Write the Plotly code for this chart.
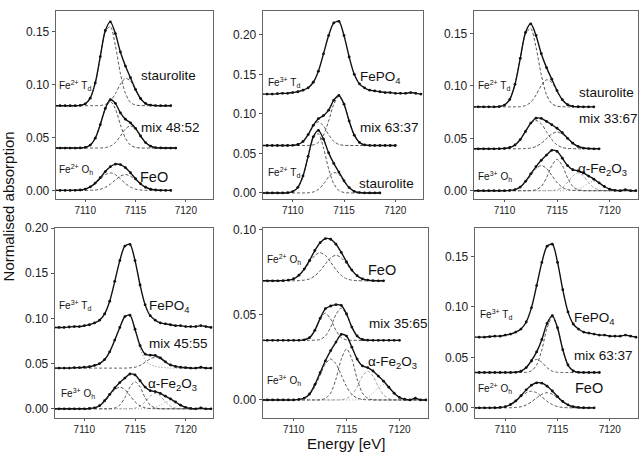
import plotly.graph_objects as go

# ---------------- data ----------------
ENERGY = [7107.0, 7107.5, 7108.0, 7108.5, 7109.0, 7109.5, 7110.0, 7110.5,
          7111.0, 7111.5, 7112.0, 7112.5, 7113.0, 7113.5, 7114.0, 7114.5,
          7115.0, 7115.5, 7116.0, 7116.5, 7117.0, 7117.5, 7118.0, 7118.5,
          7119.0, 7119.5, 7120.0, 7120.5, 7121.0, 7121.5, 7122.0, 7122.5]

# reference spectra (absorption above their own baseline)
STAU_FIT = [0, 0, 0, 0, 0, .0003, .0017, .0071, .0215, .0463, .0710, .0792, .0681, .0507,
            .0374, .0264, .0154, .0068, .0021, .0005, .0001, 0, 0, 0]
STAU_C1 = [0, 0, 0, 0, 0, .0003, .0017, .0071, .0215, .0461, .0698, .0748, .0568, .0304,
           .0116, .0031, .0006, .0001]
STAU_C2 = [0, 0, 0, 0, 0, 0, 0, 0, 0, .0002, .0012, .0044, .0113, .0203, .0258, .0233,
           .0148, .0067, .0021, .0005, .0001]

FEO_FIT = [0, 0, 0, 0, .0001, .0004, .0012, .0033, .0069, .0120, .0178, .0224, .0248, .0244,
           .0215, .0167, .0111, .0063, .0030, .0011, .0004, .0001, 0, 0]
FEO_L = [0, 0, 0, 0, .0001, .0004, .0012, .0032, .0065, .0109, .0149, .0165, .0149, .0109,
         .0065, .0032, .0012, .0004, .0001]
FEO_R = [0, 0, 0, 0, 0, 0, 0, .0001, .0004, .0011, .0029, .0059, .0099, .0135, .0150, .0135,
         .0099, .0059, .0029, .0011, .0004, .0001]

FEPO4_FIT = [0, 0, 0, .0005, .001, .001, .002, .003, .005, .008, .015, .029, .051, .074,
             .090, .092, .074, .047, .025, .013, .008, .005, .004, .003, .002, .002, .001,
             .001, .001, .002, .001, 0]

FE2O3_FIT = [0, 0, 0, 0, 0, 0, 0, .0003, .0011, .0035, .009, .016, .023, .029, .034, .0385,
             .0375, .031, .024, .020, .019, .017, .014, .011, .0075, .004, .0015, .0004, 0,
             .001, 0, 0]
FE2O3_A = [0, 0, 0, 0, 0, 0, .0001, .0003, .0011, .0032, .0078, .0146, .0212, .024, .0212,
           .0146, .0078, .0032, .0011, .0003, .0001]
FE2O3_B = [0, 0, 0, 0, 0, 0, 0, 0, 0, 0, 0, .0001, .0009, .0041, .0123, .024, .030, .024,
           .0123, .0041, .0009, .0001]
FE2O3_C = [0, 0, 0, 0, 0, 0, 0, 0, 0, 0, 0, 0, 0, 0, 0, .0001, .0008, .0029, .0078, .014,
           .017, .014, .0078, .0029, .0008, .0001]
FE2O3_D = [0, 0, 0, 0, 0, 0, 0, 0, 0, 0, 0, 0, 0, 0, 0, 0, 0, 0, .0001, .0004, .0016, .0041,
           .0074, .009, .0074, .0041, .0016, .0004, .0001]

# mixtures
MIX48_FIT = [0, 0, 0, 0, 0, .0001, .0006, .0028, .0093, .0221, .0374, .0458, .0422, .0333,
             .0273, .0238, .0186, .0114, .0052, .0018, .0004, .0001, 0, 0, 0]
MIX48_C1 = [0, 0, 0, 0, 0, .0001, .0006, .0028, .0093, .022, .037, .044, .037, .022, .0093,
            .0028, .0006, .0001]
MIX48_C2 = [0, 0, 0, 0, 0, 0, 0, 0, 0, .0001, .0004, .0018, .0052, .0113, .018, .021, .018,
            .0113, .0052, .0018, .0004, .0001]

MIX63_FIT = [0, 0, 0, 0, 0, 0, .0002, .0013, .0052, .0138, .0255, .0339, .0378, .0447, .0573,
             .0633, .0523, .031, .0131, .0039, .0008, .0001, 0, 0, 0, 0, 0]
MIX63_L = [0, 0, 0, 0, 0, 0, .0002, .0013, .0052, .0137, .0247, .030, .0247, .0137, .0052,
           .0013, .0002]
MIX63_R = [0, 0, 0, 0, 0, 0, 0, 0, 0, .0001, .0008, .0039, .0131, .031, .0521, .062, .0521,
           .031, .0131, .0039, .0008, .0001]

MIX33_FIT = [0, 0, 0, 0, 0, .0001, .0003, .0012, .0036, .0088, .0166, .0245, .0292, .029,
             .0261, .0229, .0196, .0153, .010, .0053, .0022, .0007, .0002, 0, 0]
MIX33_L = [0, 0, 0, 0, 0, .0001, .0003, .0012, .0036, .0088, .0164, .0238, .027, .0238,
           .0164, .0088, .0036, .0012, .0003, .0001]
MIX33_R = [0, 0, 0, 0, 0, 0, 0, 0, 0, 0, .0002, .0007, .0022, .0052, .0097, .0141, .016,
           .0141, .0097, .0052, .0022, .0007, .0002]

MIX45_FIT = [0, 0, 0, 0, .0005, .0006, .001, .0015, .003, .005, .0095, .018, .031, .045, .057,
             .0585, .043, .025, .0155, .0143, .014, .0113, .007, .0035, .002, .001, .0005, 0,
             0, .001, 0, 0]
MIX45_MAIN = [0, 0, 0, 0, .0005, .0006, .001, .0015, .003, .005, .0095, .018, .031, .045,
              .057, .058, .042, .022, .009, .004, .002, .001, .0005]
MIX45_SIDE = [0, 0, 0, 0, 0, 0, 0, 0, 0, 0, 0, 0, 0, 0, 0, .0003, .001, .003, .0065, .0103,
              .012, .0103, .0065, .003, .001, .0003]

MIX35_FIT = [0, 0, 0, 0, 0, 0, 0, 0, .0003, .0016, .0059, .0129, .0186, .0202, .021, .0206,
             .0155, .0078, .0026, .0005, .0001, 0, 0, 0, 0, 0, 0]
MIX35_L = [0, 0, 0, 0, 0, 0, 0, 0, .0003, .0016, .0058, .0124, .016, .0124, .0058, .0016,
           .0003]
MIX35_R = [0, 0, 0, 0, 0, 0, 0, 0, 0, 0, .0001, .0005, .0026, .0078, .0152, .019, .0152,
           .0078, .0026, .0005, .0001]

MIX63B_FIT = [0, 0, 0, 0, 0, 0, 0, 0, .0002, .0013, .0049, .0117, .0204, .0327, .0487, .0563,
              .0442, .0226, .0074, .0016, .0002, 0, 0, 0, 0]
MIX63B_L = [0, 0, 0, 0, 0, 0, 0, 0, .0002, .0013, .0047, .0101, .013, .0101, .0047, .0013,
            .0002]
MIX63B_R = [0, 0, 0, 0, 0, 0, 0, 0, 0, 0, .0002, .0016, .0074, .0226, .044, .055, .044,
            .0226, .0074, .0016, .0002]

# vertical offsets of the stacked spectra
OFF_P1 = [0.080, 0.040, 0.000]
OFF_P2 = [0.125, 0.060, 0.000]
OFF_P3 = [0.080, 0.040, 0.000]
OFF_P4 = [0.090, 0.045, 0.000]
OFF_P5 = [0.070, 0.035, 0.000]
OFF_P6 = [0.070, 0.035, 0.000]

# ---------------- layout helpers ----------------
W, H = 640, 455
FONT = "Arial, 'Liberation Sans', sans-serif"
DARK = "#444444"
LIGHT = "#999999"
DOT = "#777777"

def dom_x(a, b):
    return [a / W, b / W]

def dom_y(top, bottom):
    return [1 - bottom / H, 1 - top / H]

fig = go.Figure()

def add_spectrum(k, fit, off, comps):
    n = len(fit)
    xs = ENERGY[:n]
    for c, col, dash in comps:
        vals = list(c) + [0] * (n - len(c))
        fig.add_trace(go.Scatter(
            x=xs, y=[off + v for v in vals], xaxis=f"x{k}", yaxis=f"y{k}",
            mode="lines", hoverinfo="skip",
            line=dict(color=col, width=0.9, dash=dash, shape="spline", smoothing=0.8)))
    fig.add_trace(go.Scatter(
        x=xs, y=[off + v for v in fit], xaxis=f"x{k}", yaxis=f"y{k}",
        mode="lines+markers", hoverinfo="skip",
        line=dict(color="#111111", width=1.4, shape="spline", smoothing=0.8),
        marker=dict(size=2.8, color="#111111")))

DSH = "3px,2px"
DOTS = "1px,2px"

# panel 1
add_spectrum(1, STAU_FIT, OFF_P1[0], [(STAU_C1, DARK, DSH), (STAU_C2, DARK, DSH)])
add_spectrum(1, MIX48_FIT, OFF_P1[1], [(MIX48_C1, DARK, DSH), (MIX48_C2, DARK, DSH)])
add_spectrum(1, FEO_FIT, OFF_P1[2], [(FEO_L, DARK, DSH), (FEO_R, DARK, DSH)])
# panel 2
add_spectrum(2, FEPO4_FIT, OFF_P2[0], [])
add_spectrum(2, MIX63_FIT, OFF_P2[1], [(MIX63_L, DARK, DSH), (MIX63_R, DARK, DSH)])
add_spectrum(2, STAU_FIT, OFF_P2[2], [(STAU_C1, DARK, DSH), (STAU_C2, DARK, DSH)])
# panel 3
FE2O3_COMPS = [(FE2O3_D, LIGHT, DOTS), (FE2O3_C, LIGHT, DSH),
               (FE2O3_A, DARK, DSH), (FE2O3_B, DARK, DSH)]
add_spectrum(3, STAU_FIT, OFF_P3[0], [(STAU_C1, DARK, DSH), (STAU_C2, DARK, DSH)])
add_spectrum(3, MIX33_FIT, OFF_P3[1], [(MIX33_L, DARK, DSH), (MIX33_R, DARK, DSH)])
add_spectrum(3, FE2O3_FIT, OFF_P3[2], FE2O3_COMPS)
# panel 4
add_spectrum(4, FEPO4_FIT, OFF_P4[0], [])
add_spectrum(4, MIX45_FIT, OFF_P4[1], [(MIX45_MAIN, DOT, DOTS), (MIX45_SIDE, DARK, DSH)])
add_spectrum(4, FE2O3_FIT, OFF_P4[2], FE2O3_COMPS)
# panel 5
add_spectrum(5, FEO_FIT, OFF_P5[0], [(FEO_L, DARK, DSH), (FEO_R, DARK, DSH)])
add_spectrum(5, MIX35_FIT, OFF_P5[1], [(MIX35_L, DARK, DSH), (MIX35_R, DARK, DSH)])
add_spectrum(5, FE2O3_FIT, OFF_P5[2], FE2O3_COMPS)
# panel 6
add_spectrum(6, FEPO4_FIT, OFF_P6[0], [])
add_spectrum(6, MIX63B_FIT, OFF_P6[1], [(MIX63B_L, DARK, DSH), (MIX63B_R, DARK, DSH)])
add_spectrum(6, FEO_FIT, OFF_P6[2], [(FEO_L, DARK, DSH), (FEO_R, DARK, DSH)])

PANELS = [
    dict(box=(56, 4, 213, 195), yr=(-0.0077, 0.1695), yt=[0, 0.05, 0.10, 0.15]),
    dict(box=(263, 4, 423, 195), yr=(-0.0071, 0.2302), yt=[0, 0.05, 0.10, 0.15, 0.20]),
    dict(box=(474, 4, 638, 195), yr=(-0.0075, 0.1715), yt=[0, 0.05, 0.10, 0.15]),
    dict(box=(55, 225, 213, 418), yr=(-0.0098, 0.200), yt=[0, 0.05, 0.10, 0.15, 0.20]),
    dict(box=(263, 225, 428, 418), yr=(-0.0104, 0.101), yt=[0, 0.05, 0.10]),
    dict(box=(475, 225, 638, 418), yr=(-0.0097, 0.178), yt=[0, 0.05, 0.10, 0.15]),
]

layout = dict(width=W, height=H, margin=dict(l=0, r=0, t=0, b=0, pad=0),
              paper_bgcolor="white", plot_bgcolor="white", showlegend=False,
              font=dict(family=FONT, color="#111111"), hovermode=False)
for i, p in enumerate(PANELS, start=1):
    x0, y0, x1, y1 = p["box"]
    layout[f"xaxis{i}"] = dict(
        domain=dom_x(x0, x1), range=[7107.1, 7122.7], anchor=f"y{i}",
        tickvals=[7110, 7115, 7120], ticktext=["7110", "7115", "7120"],
        ticks="outside", ticklen=2, tickcolor="#555555",
        tickfont=dict(size=10, family=FONT, color="#222222"),
        showline=True, mirror=True, linecolor="#666666", linewidth=1.3,
        showgrid=False, zeroline=False, fixedrange=True)
    layout[f"yaxis{i}"] = dict(
        domain=dom_y(y0, y1), range=list(p["yr"]), anchor=f"x{i}",
        tickvals=p["yt"], ticktext=[f"{v:.2f}" for v in p["yt"]],
        ticks="outside", ticklen=3, tickcolor="#555555",
        tickfont=dict(size=12, family=FONT, color="#222222"),
        showline=True, mirror=True, linecolor="#666666", linewidth=1.3,
        showgrid=False, zeroline=False, fixedrange=True)

fig.update_layout(**layout)

def note(text, px, py, size):
    fig.add_annotation(text=text, x=px / W, y=1 - py / H, xref="paper", yref="paper",
                       xanchor="left", yanchor="middle", showarrow=False,
                       font=dict(size=size, family=FONT, color="#111111"))

BIG = 13.5
SMALL = 10
FE2TD = "Fe<sup>2+</sup> T<sub>d</sub>"
FE3TD = "Fe<sup>3+</sup> T<sub>d</sub>"
FE2OH = "Fe<sup>2+</sup> O<sub>h</sub>"
FE3OH = "Fe<sup>3+</sup> O<sub>h</sub>"
FEPO4 = "FePO<sub>4</sub>"
HEM = "\u03b1-Fe<sub>2</sub>O<sub>3</sub>"

# panel 1
note("staurolite", 139, 70, BIG)
note("mix 48:52", 139, 123, BIG)
note("FeO", 138, 173, BIG + 1)
note(FE2TD, 57, 80, SMALL)
note(FE2OH, 57, 165, SMALL)
# panel 2
note(FEPO4, 358, 72, BIG)
note("mix 63:37", 358, 123, BIG)
note("staurolite", 357, 180, BIG)
note(FE3TD, 266, 77, SMALL)
note(FE2TD, 266, 168, SMALL)
# panel 3
note("staurolite", 577, 87, BIG)
note("mix 33:67", 577, 113, BIG)
note(HEM, 576, 165, BIG)
note(FE2TD, 476, 80, SMALL)
note(FE3OH, 476, 173, SMALL)
# panel 4
note(FEPO4, 147, 305, BIG)
note("mix 45:55", 147, 343, BIG)
note(HEM, 146, 384, BIG)
note(FE3TD, 57, 304, SMALL)
note(FE3OH, 59, 393, SMALL)
# panel 5
note("FeO", 366, 268, BIG + 1)
note("mix 35:65", 367, 322, BIG)
note(HEM, 366, 362, BIG)
note(FE2OH, 265, 257, SMALL)
note(FE3OH, 265, 380, SMALL)
# panel 6
note(FEPO4, 572, 317, BIG)
note("mix 63:37", 572, 355, BIG)
note("FeO", 573, 388, BIG + 1)
note(FE3TD, 478, 313, SMALL)
note(FE2OH, 476, 388, SMALL)

# axis titles
fig.add_annotation(text="Normalised absorption", x=8 / W, y=1 - 203 / H,
                   xref="paper", yref="paper", textangle=-90, showarrow=False,
                   xanchor="center", yanchor="middle",
                   font=dict(size=15, family=FONT, color="#111111"))
fig.add_annotation(text="Energy [eV]", x=346 / W, y=1 - 444 / H,
                   xref="paper", yref="paper", showarrow=False,
                   xanchor="center", yanchor="middle",
                   font=dict(size=15, family=FONT, color="#111111"))

fig.write_html("out.html",
               config={"displayModeBar": False, "staticPlot": True},
               post_script="document.body.style.margin='0';"
                           "document.body.style.overflow='hidden';")
